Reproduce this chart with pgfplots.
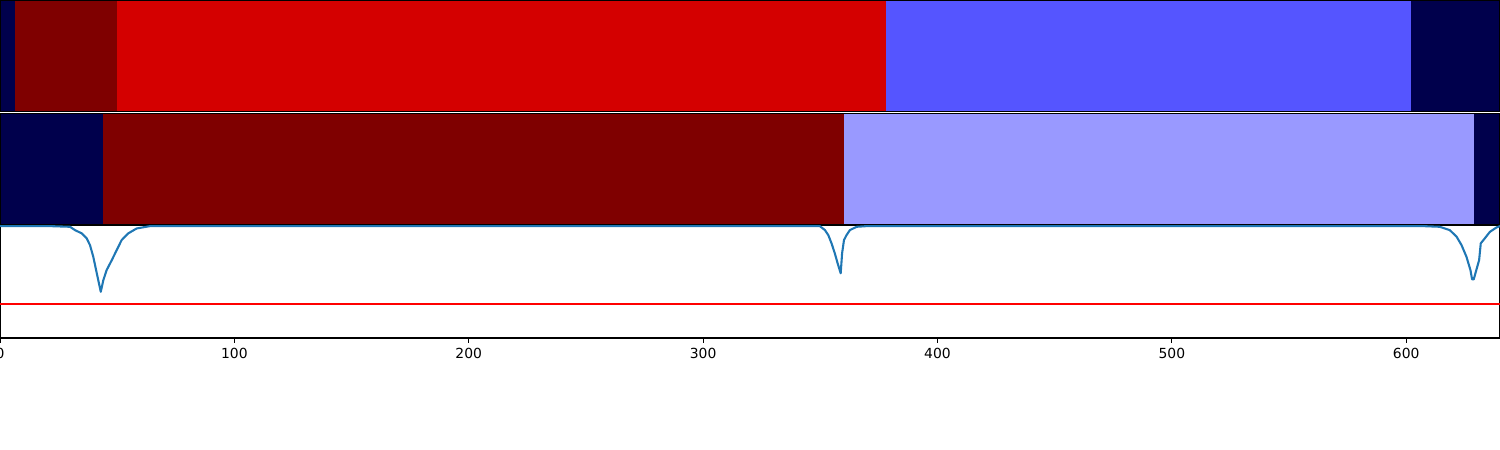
\documentclass[border=0pt]{standalone}
\usepackage{fontspec}
\setmainfont{DejaVu Sans}
\usepackage{pgfplots}
\pgfplotsset{compat=1.18}
\definecolor{navy}{HTML}{00004C}
\definecolor{dred}{HTML}{7F0000}
\definecolor{mred}{HTML}{D40000}
\definecolor{mblue}{HTML}{5555FF}
\definecolor{lblue}{HTML}{9999FF}
\definecolor{mplblue}{HTML}{1F77B4}
\pgfplotsset{panel/.style={scale only axis, width=1080pt, xmin=0, xmax=640,
  anchor=south west, axis line style={line width=0.8pt, black},
  ytick=\empty, clip=true}}
\begin{document}
\begin{tikzpicture}
% panel 1
\begin{axis}[panel, at={(0pt,243.72pt)}, height=80.28pt, ymin=0, ymax=1, xtick=\empty, axis on top]
\addplot[fill=navy, draw=none] coordinates {(0,1) (640,1)} \closedcycle;
\addplot[fill=dred, draw=none] coordinates {(6.4,1) (50,1)} \closedcycle;
\addplot[fill=mred, draw=none] coordinates {(50,1) (378,1)} \closedcycle;
\addplot[fill=mblue, draw=none] coordinates {(378,1) (602,1)} \closedcycle;
\end{axis}
% panel 2
\begin{axis}[panel, at={(0pt,162pt)}, height=80.21pt, ymin=0, ymax=1, xtick=\empty, axis on top]
\addplot[fill=navy, draw=none] coordinates {(0,1) (640,1)} \closedcycle;
\addplot[fill=dred, draw=none] coordinates {(44,1) (360,1)} \closedcycle;
\addplot[fill=lblue, draw=none] coordinates {(360,1) (629,1)} \closedcycle;
\end{axis}
% panel 3
\begin{axis}[panel, at={(0pt,80.64pt)}, height=81.36pt, ymin=0, ymax=1.01,
  xtick={0,100,200,300,400,500,600}, tick align=outside, xtick pos=left,
  major tick length=3.5pt, tick style={line width=0.8pt, black},
  /pgf/number format/assume math mode=true,
  xticklabel style={font=\fontsize{10}{12}\selectfont}]
\addplot[red, line width=1.5pt, forget plot] coordinates {(0,0.3) (640,0.3)};
\addplot[mplblue, line width=1.5pt, line join=round] coordinates {
(0,1.0) (21.3,1.0) (29.9,0.994) (32.0,0.964) (34.9,0.935) (37.0,0.890) (38.4,0.830)
(39.8,0.726) (41.3,0.578) (43.0,0.413) (44.1,0.518) (45.5,0.607) (47.7,0.696)
(49.8,0.786) (51.9,0.875) (54.7,0.935) (58.3,0.979) (64.0,1.0)
(337,1.0) (349.8,1.0) (352.0,0.964) (353.4,0.920) (354.8,0.846) (356.2,0.756)
(357.4,0.667) (358.7,0.578) (359.3,0.756) (360.1,0.875) (361.2,0.920) (362.6,0.964)
(365.5,0.994) (369.8,1.0)
(607.2,1.0) (614.3,0.994) (618.6,0.964) (621.5,0.905) (623.6,0.830) (625.7,0.726)
(627.4,0.607) (628.1,0.524) (628.8,0.524) (630.3,0.637) (631.1,0.696) (631.8,0.846)
(633.5,0.890) (635.7,0.949) (638.5,0.988) (640,1.0)
};
\end{axis}
\pgfresetboundingbox
\useasboundingbox (0pt,0pt) rectangle (1080pt,324pt);
\end{tikzpicture}
\end{document}
